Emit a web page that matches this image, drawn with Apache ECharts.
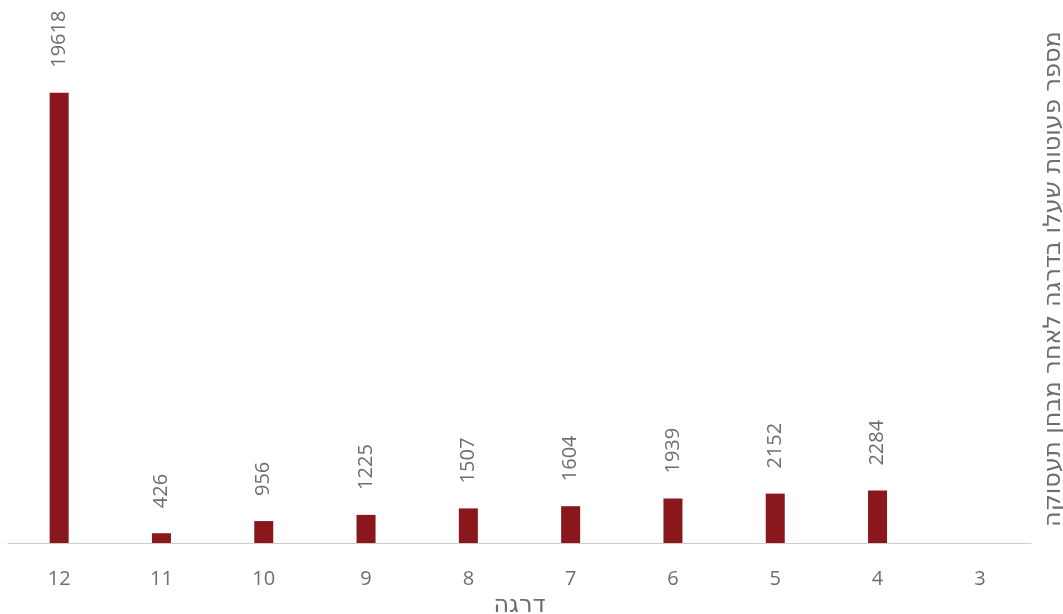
<!DOCTYPE html>
<html>
<head>
    <meta charset="utf-8">
    <title>ECharts</title>
</head>
<body style="margin:0">
<script src="https://cdn.jsdelivr.net/npm/echarts@6/dist/echarts.min.js"></script>
<div id="main" style="width:1063px;height:614px;"></div>
<script type="text/javascript">
    // categories (grade), left to right
    var grades = ['12', '11', '10', '9', '8', '7', '6', '5', '4', '3']
    // number of toddlers moving up a grade after the occupation test
    var counts = [19618, 426, 956, 1225, 1507, 1604, 1939, 2152, 2284, null]

    var xName = 'דרגה'
    var yName = 'מספר פעוטות שעלו בדרגה לאחר מבחן תעסוקה'

    var grey = '#6e6e6e'
    var font = '"Open Sans", "DejaVu Sans", sans-serif'

    var myChart = echarts.init(document.getElementById('main'));
    var option = {
        animation: false,
        grid: {
            left: 8,
            right: 32,
            top: 84,
            bottom: 71,
            containLabel: false,
            outerBoundsMode: 'none'
        },
        xAxis: {
            type: 'category',
            data: grades,
            name: xName,
            nameLocation: 'middle',
            nameGap: 51,
            nameTextStyle: {color: grey, fontSize: 24, fontFamily: '"DejaVu Sans", sans-serif'},
            axisLine: {lineStyle: {color: '#cccccc', width: 1}},
            axisTick: {show: false},
            axisLabel: {color: grey, fontSize: 20, fontFamily: font, margin: 26}
        },
        yAxis: {
            type: 'value',
            min: 0,
            max: 20000,
            show: false
        },
        graphic: [{
            type: 'text',
            x: 1054,
            y: 279,
            rotation: Math.PI / 2,
            style: {
                text: yName,
                fill: grey,
                font: '24px "DejaVu Sans", sans-serif',
                align: 'center',
                verticalAlign: 'middle'
            }
        }],
        series: [{
            type: 'bar',
            data: counts,
            barWidth: 19,
            itemStyle: {color: '#8a171c'},
            label: {
                show: true,
                position: 'top',
                rotate: 90,
                align: 'left',
                verticalAlign: 'middle',
                distance: 25,
                color: grey,
                fontSize: 20,
                fontFamily: font
            }
        }]
    };
    myChart.setOption(option);
</script>
</body>
</html>
